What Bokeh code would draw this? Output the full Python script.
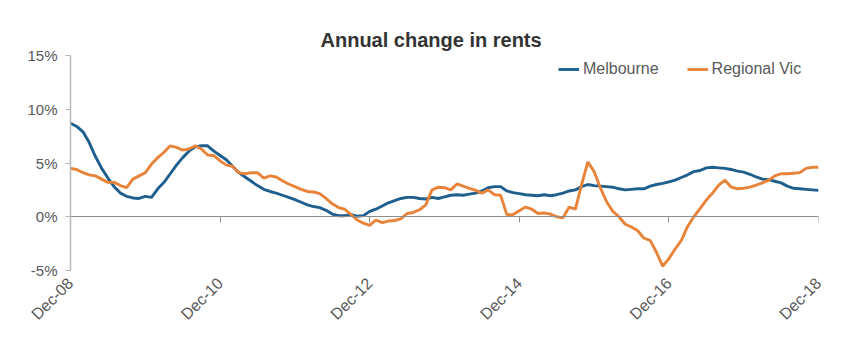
import math
from bokeh.plotting import figure
from bokeh.models import Range1d, FixedTicker, LinearAxis, Legend, LegendItem, ColumnDataSource
from bokeh.embed import file_html
from bokeh.resources import INLINE

months = list(range(121))
melbourne = [
    8.7, 8.4, 7.9, 6.9, 5.6, 4.5, 3.6, 2.8, 2.2, 1.9,
    1.75, 1.7, 1.9, 1.8, 2.6, 3.2, 4.0, 4.8, 5.5, 6.1,
    6.5, 6.6, 6.6, 6.1, 5.7, 5.3, 4.7, 4.1, 3.7, 3.3,
    2.9, 2.55, 2.35, 2.2, 2.0, 1.8, 1.6, 1.35, 1.1, 0.95,
    0.85, 0.6, 0.25, 0.1, 0.1, 0.2, 0.05, 0.1, 0.5, 0.7,
    1.0, 1.3, 1.5, 1.7, 1.8, 1.8, 1.7, 1.65, 1.8, 1.7,
    1.85, 2.0, 2.05, 2.0, 2.1, 2.2, 2.4, 2.7, 2.8, 2.8,
    2.4, 2.25, 2.15, 2.05, 2.0, 1.95, 2.05, 1.95, 2.05, 2.2,
    2.4, 2.5, 2.8, 3.0, 2.9, 2.85, 2.8, 2.75, 2.6, 2.5,
    2.55, 2.6, 2.6, 2.85, 3.0, 3.1, 3.25, 3.4, 3.65, 3.9,
    4.2, 4.3, 4.55, 4.6, 4.55, 4.5, 4.4, 4.25, 4.15, 3.95,
    3.7, 3.5, 3.45, 3.3, 3.15, 2.85, 2.65, 2.6, 2.55, 2.5,
    2.45,
]
regional = [
    4.5, 4.4, 4.1, 3.9, 3.8, 3.5, 3.2, 3.2, 2.9, 2.7,
    3.5, 3.8, 4.1, 4.9, 5.5, 6.0, 6.6, 6.45, 6.2, 6.3,
    6.6, 6.3, 5.75, 5.7, 5.2, 4.8, 4.7, 4.1, 4.0, 4.1,
    4.1, 3.6, 3.8, 3.7, 3.35, 3.05, 2.8, 2.55, 2.35, 2.3,
    2.15, 1.7, 1.2, 0.85, 0.7, 0.2, -0.3, -0.6, -0.8, -0.3,
    -0.55, -0.4, -0.35, -0.2, 0.3, 0.4, 0.65, 1.1, 2.5, 2.75,
    2.7, 2.5, 3.05, 2.85, 2.65, 2.45, 2.2, 2.5, 2.05, 2.0,
    0.2, 0.2, 0.55, 0.9, 0.7, 0.3, 0.35, 0.25, 0.0, -0.1,
    0.9, 0.7, 3.0, 5.1, 4.2, 2.7, 1.4, 0.5, 0.0, -0.7,
    -0.95, -1.3, -2.0, -2.2, -3.3, -4.6, -3.9, -3.0, -2.2, -0.9,
    0.0, 0.75, 1.55, 2.2, 2.95, 3.4, 2.75, 2.6, 2.65, 2.75,
    2.95, 3.15, 3.4, 3.8, 4.0, 4.0, 4.05, 4.1, 4.5, 4.6,
    4.6,
]
tick_months = [0, 24, 48, 72, 96, 120]
tick_labels = ["Dec-08", "Dec-10", "Dec-12", "Dec-14", "Dec-16", "Dec-18"]
y_ticks = [-5, 0, 5, 10, 15]
y_labels = ["-5%", "0%", "5%", "10%", "15%"]

BLUE = "#1f5f8e"
ORANGE = "#e8833a"
TXT = "#595959"
FONT = "Liberation Sans"

src = ColumnDataSource(dict(m=months, mel=melbourne, reg=regional))

p = figure(width=833, height=342, output_backend="svg", toolbar_location=None,
           x_range=Range1d(0, 120), y_range=Range1d(-5, 15),
           min_border_left=70, min_border_right=15, min_border_top=55,
           min_border_bottom=72, title="Annual change in rents")
p.outline_line_color = None
p.xgrid.visible = False
p.ygrid.visible = False

p.title.text_font = FONT
p.title.text_font_style = "bold"
p.title.text_font_size = "20px"
p.title.text_color = "#333333"
p.title.align = "left"
p.title.offset = 250

xa = p.xaxis[0]
xa.ticker = FixedTicker(ticks=tick_months)
xa.major_label_overrides = {t: l for t, l in zip(tick_months, tick_labels)}
xa.axis_line_color = None
xa.major_tick_line_color = None
xa.minor_tick_line_color = None
xa.major_tick_out = 0
xa.major_tick_in = 0
xa.major_label_standoff = 10
xa.major_label_orientation = math.pi / 4
xa.major_label_text_font = FONT
xa.major_label_text_font_size = "16px"
xa.major_label_text_color = TXT

# zero line axis
za = LinearAxis(fixed_location=0, ticker=FixedTicker(ticks=tick_months),
                major_label_overrides={t: "" for t in tick_months},
                major_label_text_font_size="1px",
                axis_line_color="#8c8c8c", axis_line_width=1.2,
                major_tick_line_color="#8c8c8c", major_tick_out=6, major_tick_in=0,
                minor_tick_line_color=None)
p.add_layout(za, "below")

ya = p.yaxis[0]
ya.ticker = FixedTicker(ticks=y_ticks)
ya.major_label_overrides = {t: l for t, l in zip(y_ticks, y_labels)}
ya.axis_line_color = "#b8b8b8"
ya.axis_line_width = 1.5
ya.major_tick_line_color = "#b8b8b8"
ya.major_tick_out = 5
ya.major_tick_in = 0
ya.minor_tick_line_color = None
ya.major_label_standoff = 8
ya.major_label_text_font = FONT
ya.major_label_text_font_size = "15px"
ya.major_label_text_color = TXT

r1 = p.line("m", "mel", source=src, line_color=BLUE, line_width=2.9)
r2 = p.line("m", "reg", source=src, line_color=ORANGE, line_width=2.9)

legend = Legend(items=[LegendItem(label="Melbourne", renderers=[r1]),
                       LegendItem(label="Regional Vic", renderers=[r2])],
                location=(488, 191), orientation="horizontal",
                padding=4, margin=0, spacing=28, glyph_width=21, glyph_height=20,
                label_standoff=4, label_text_font=FONT, label_text_font_size="16px",
                label_text_color=TXT, border_line_color=None, background_fill_alpha=0)
p.add_layout(legend)

open("out.html", "w").write(file_html(p, INLINE))
